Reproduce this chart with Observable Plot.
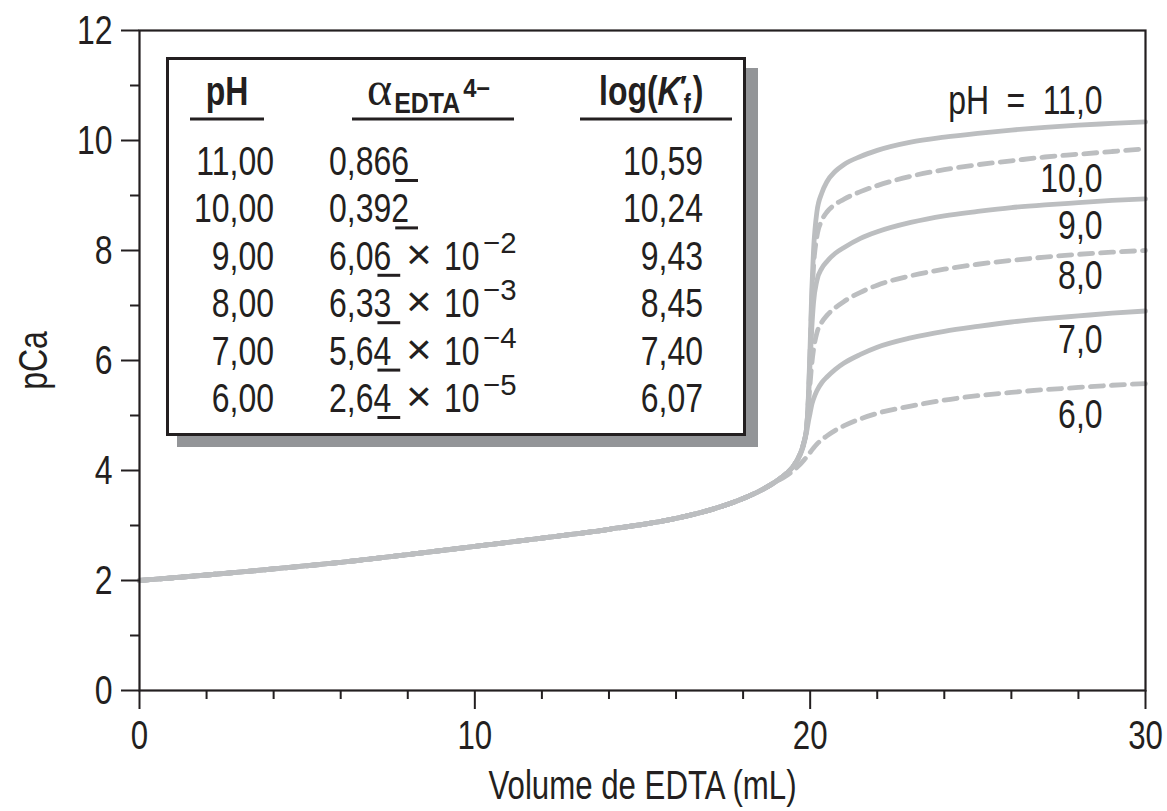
<!DOCTYPE html>
<html>
<head>
<meta charset="utf-8">
<script src="https://cdn.jsdelivr.net/npm/d3@7"></script>
<script src="https://cdn.jsdelivr.net/npm/@observablehq/plot@0.6"></script>
<style>
  html, body { margin: 0; padding: 0; background: #fff; }
  #chart { width: 1167px; height: 811px; }
</style>
</head>
<body>
<div id="chart"></div>
<script>
// ---- Data ----
const volumes = [0, 2, 4, 6, 8, 10, 12, 14, 16, 17, 18, 18.5, 19, 19.3, 19.5, 19.7, 19.8, 19.9, 19.95,
  20, 20.05, 20.1, 20.2, 20.35, 20.5, 20.75, 21, 21.5, 22, 23, 24, 25, 26, 27, 28, 29, 30];

const pHLevels = [11, 10, 9, 8, 7, 6];

const pCa_pH11 = [2.00, 2.10, 2.21, 2.33, 2.47, 2.62, 2.77, 2.93, 3.13, 3.28, 3.49, 3.63, 3.81, 3.95, 4.08, 4.30, 4.48, 4.82, 5.40,
  6.30, 7.30, 8.00, 8.70, 9.05, 9.25, 9.44, 9.56, 9.71, 9.82, 9.97, 10.06, 10.13, 10.19, 10.24, 10.28, 10.31, 10.34];
const pCa_pH10 = [2.00, 2.10, 2.21, 2.33, 2.47, 2.62, 2.77, 2.93, 3.13, 3.28, 3.49, 3.63, 3.81, 3.95, 4.08, 4.30, 4.48, 4.82, 5.35,
  6.20, 7.10, 7.70, 8.25, 8.55, 8.70, 8.84, 8.93, 9.07, 9.18, 9.35, 9.47, 9.56, 9.63, 9.70, 9.75, 9.80, 9.85];
const pCa_pH9 = [2.00, 2.10, 2.21, 2.33, 2.47, 2.62, 2.77, 2.93, 3.13, 3.28, 3.49, 3.63, 3.81, 3.95, 4.08, 4.30, 4.48, 4.82, 5.30,
  6.00, 6.60, 7.05, 7.45, 7.68, 7.80, 7.95, 8.05, 8.22, 8.34, 8.51, 8.63, 8.71, 8.78, 8.83, 8.87, 8.91, 8.94];
const pCa_pH8 = [2.00, 2.10, 2.21, 2.33, 2.47, 2.62, 2.77, 2.93, 3.13, 3.28, 3.49, 3.63, 3.81, 3.95, 4.08, 4.30, 4.48, 4.80, 5.20,
  5.60, 5.95, 6.20, 6.50, 6.70, 6.82, 6.96, 7.07, 7.24, 7.37, 7.54, 7.66, 7.75, 7.82, 7.88, 7.93, 7.97, 8.00];
const pCa_pH7 = [2.00, 2.10, 2.21, 2.33, 2.47, 2.62, 2.77, 2.93, 3.13, 3.28, 3.49, 3.63, 3.81, 3.95, 4.08, 4.28, 4.45, 4.72, 4.90,
  5.05, 5.20, 5.30, 5.45, 5.60, 5.70, 5.84, 5.95, 6.11, 6.24, 6.41, 6.53, 6.62, 6.70, 6.76, 6.81, 6.86, 6.90];
const pCa_pH6 = [2.00, 2.10, 2.21, 2.33, 2.47, 2.62, 2.77, 2.93, 3.13, 3.28, 3.49, 3.63, 3.80, 3.91, 4.00, 4.11, 4.18, 4.25, 4.29,
  4.33, 4.37, 4.41, 4.48, 4.56, 4.63, 4.73, 4.81, 4.94, 5.04, 5.17, 5.28, 5.36, 5.42, 5.47, 5.51, 5.55, 5.58];

const curveLabels = ["pH = 11,0", "10,0", "9,0", "8,0", "7,0", "6,0"];
const labelVolume = [28.72, 28.72, 28.72, 28.72, 28.72, 28.72];
const labelPCa = [10.72, 9.30, 8.45, 7.53, 6.38, 5.02];

const xTicks = [0, 10, 20, 30];
const xMinorTicks = [2, 4, 6, 8, 12, 14, 16, 18, 22, 24, 26, 28];
const yTicks = [0, 2, 4, 6, 8, 10, 12];
const yMinorTicks = [1, 3, 5, 7, 9, 11];

const tablePH = ["11,00", "10,00", "9,00", "8,00", "7,00", "6,00"];
const tableAlphaMantissa = ["0,86", "0,39", "6,0", "6,3", "5,6", "2,6"];
const tableAlphaGuard = ["6", "2", "6", "3", "4", "4"];
const tableAlphaExponent = ["", "", "−2", "−3", "−4", "−5"];
const tableLogK = ["10,59", "10,24", "9,43", "8,45", "7,40", "6,07"];

// ---- Build table for the library ----
const seriesValues = [pCa_pH11, pCa_pH10, pCa_pH9, pCa_pH8, pCa_pH7, pCa_pH6];
const rows = pHLevels.flatMap((ph, i) => volumes.map((v, j) => ({pH: ph, V: v, pCa: seriesValues[i][j]})));
const solidRows = rows.filter(d => d.pH % 2 === 1);
const dashedRows = rows.filter(d => d.pH % 2 === 0);
const labelRows = curveLabels.map((t, i) => ({text: t, V: labelVolume[i], pCa: labelPCa[i]}));

const FONT = "'Liberation Sans', Arial, sans-serif";
const SERIF = "'Liberation Serif', 'DejaVu Serif', serif";
const SX = 0.78; // horizontal condensing of the sans font
const INK = "#231f20";
const CURVE = "#bcbec0";

const plot = Plot.plot({
  width: 1167,
  height: 811,
  marginLeft: 139,
  marginRight: 22,
  marginTop: 30,
  marginBottom: 121,
  style: {fontFamily: FONT, background: "white", color: INK, overflow: "visible"},
  x: {domain: [0, 30]},
  y: {domain: [0, 12]},
  marks: [
    Plot.line(solidRows, {x: "V", y: "pCa", z: "pH", stroke: CURVE, strokeWidth: 4.8, curve: "monotone-x"}),
    Plot.line(dashedRows, {x: "V", y: "pCa", z: "pH", stroke: CURVE, strokeWidth: 4.8, strokeDasharray: "13,8", curve: "monotone-x"}),
    Plot.frame({stroke: INK, strokeWidth: 2.2}),
    Plot.axisY(yMinorTicks, {tickSize: 9, tickFormat: () => "", strokeWidth: 2, label: null}),
    Plot.axisY(yTicks, {tickSize: 18, tickPadding: 9, strokeWidth: 2, fontSize: 41, tickFormat: d => String(d), label: null}),
    Plot.axisX(xMinorTicks, {tickSize: 9, tickFormat: () => "", strokeWidth: 2, label: null}),
    Plot.axisX(xTicks, {tickSize: 19, tickPadding: 11, strokeWidth: 2, fontSize: 40, tickFormat: d => String(d), label: null}),
    Plot.text(labelRows, {x: "V", y: "pCa", text: "text", textAnchor: "end", lineAnchor: "middle", fontSize: 41, fill: INK}),
    Plot.text(["pCa"], {frameAnchor: "left", dx: -106, rotate: -90, textAnchor: "middle", lineAnchor: "middle", fontSize: 41, fill: INK}),
    Plot.text(["Volume de EDTA (mL)"], {frameAnchor: "bottom", dy: 96, textAnchor: "middle", lineAnchor: "middle", fontSize: 40, fill: INK})
  ]
});

document.getElementById("chart").appendChild(plot);

// condense every text drawn by Plot (the reference uses a condensed face)
plot.querySelectorAll("text").forEach(t => {
  if (t.textContent.includes("=")) t.setAttribute("word-spacing", "11"); // math spacing round "="
  const len = t.getComputedTextLength();
  if (len > 0) {
    t.setAttribute("textLength", (len * SX).toFixed(2));
    t.setAttribute("lengthAdjust", "spacingAndGlyphs");
  }
});

// ---- Inset table (annotation) ----
const svg = d3.select(plot);
const g = svg.append("g").attr("font-family", FONT).attr("fill", INK);
g.append("rect").attr("x", 177).attr("y", 68).attr("width", 581).attr("height", 379).attr("fill", "#939598");
g.append("rect").attr("x", 167.5).attr("y", 58.5).attr("width", 577).attr("height", 376)
  .attr("fill", "white").attr("stroke", INK).attr("stroke-width", 3);

function txt(x, y, s, opts = {}) {
  const sx = opts.sx ?? SX;
  const t = g.append("text")
    .attr("transform", `translate(${x},${y}) scale(${sx},1)`)
    .attr("font-size", opts.size ?? 41)
    .attr("text-anchor", opts.anchor ?? "start")
    .text(s);
  if (opts.bold) t.attr("font-weight", "bold");
  if (opts.italic) t.attr("font-style", "italic");
  if (opts.family) t.attr("font-family", opts.family);
  return t;
}
function width(t, sx = SX) { return t.node().getComputedTextLength() * sx; }

// headers
const headerY = 105;
txt(227, headerY, "pH", {bold: true, anchor: "middle"});
const alpha = txt(367, headerY, "α", {family: SERIF, sx: 1, size: 48});
const edta = txt(367 + width(alpha, 1) + 2, headerY + 8, "EDTA", {bold: true, size: 29, sx: 0.86});
txt(367 + width(alpha, 1) + 2 + width(edta, 0.86) + 3, headerY - 8, "4−", {bold: true, size: 25, sx: 0.95});
const lg = txt(599, headerY, "log(", {bold: true});
let kx = 599 + width(lg);
const kk = txt(kx, headerY, "K", {bold: true, italic: true});
kx += width(kk);
txt(kx - 1, headerY - 9, "′", {bold: true, size: 30, sx: 1});
const ff = txt(kx + 3, headerY + 8, "f", {bold: true, size: 27});
kx += width(ff) + 5;
txt(kx, headerY, ")", {bold: true});
[[190, 264], [352, 514], [580, 732]].forEach(([a, b]) =>
  g.append("line").attr("x1", a).attr("x2", b).attr("y1", 119).attr("y2", 119)
    .attr("stroke", INK).attr("stroke-width", 3));

// rows
const rowY0 = 175, rowStep = 47.4;
tablePH.forEach((ph, i) => {
  const y = rowY0 + i * rowStep;
  txt(274, y, ph, {anchor: "end"});
  const m = txt(329, y, tableAlphaMantissa[i]);
  const gx = 329 + width(m);
  const gd = txt(gx, y, tableAlphaGuard[i]);
  const gw = width(gd);
  g.append("line").attr("x1", gx + 4).attr("x2", gx + gw + 9).attr("y1", y + 5.5).attr("y2", y + 5.5)
    .attr("stroke", INK).attr("stroke-width", 3);
  if (tableAlphaExponent[i]) {
    txt(406, y - 1, "×", {size: 42, sx: 1.05});
    txt(444, y, "10");
    txt(483, y - 17, tableAlphaExponent[i], {size: 30, sx: 0.98});
  }
  txt(703, y, tableLogK[i], {anchor: "end"});
});
</script>
</body>
</html>
